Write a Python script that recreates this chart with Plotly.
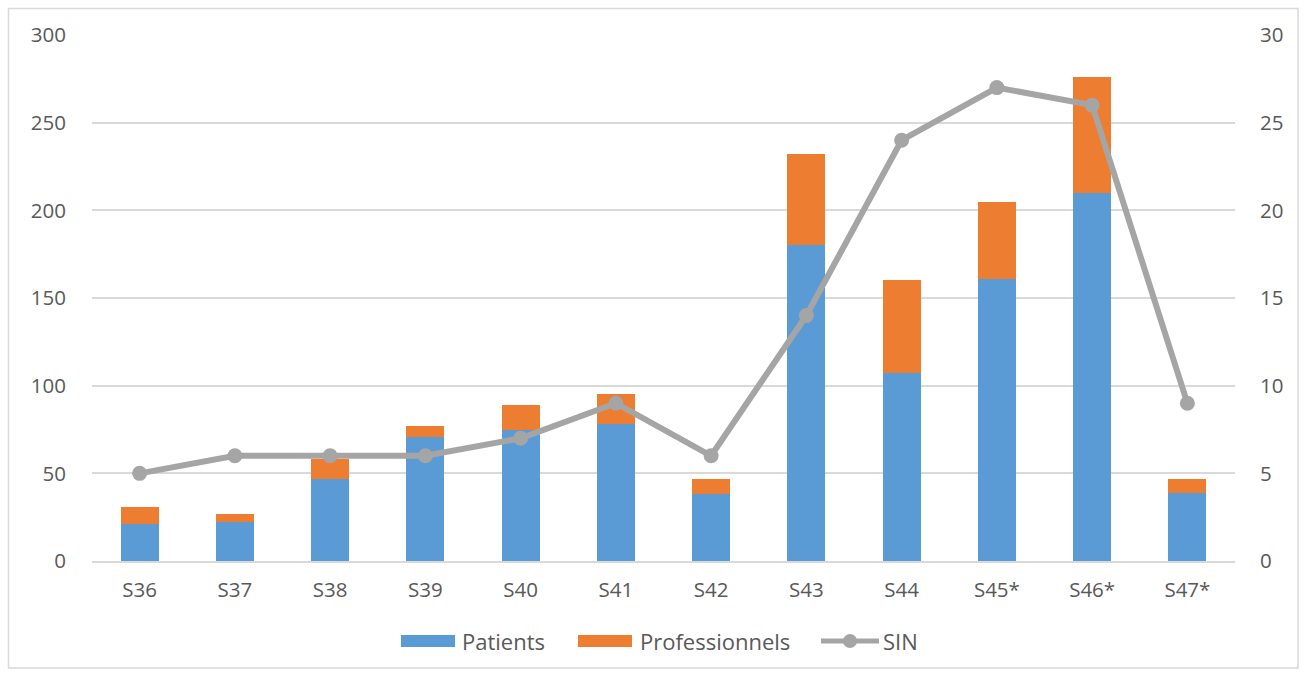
import plotly.graph_objects as go

weeks = ["S36", "S37", "S38", "S39", "S40", "S41", "S42", "S43", "S44", "S45*", "S46*", "S47*"]
patients = [21, 22, 47, 71, 75, 78, 38, 180, 107, 161, 210, 39]
professionnels = [10, 5, 11, 6, 14, 17, 9, 52, 53, 44, 66, 8]
sin = [5, 6, 6, 6, 7, 9, 6, 14, 24, 27, 26, 9]

left_ticks = [0, 50, 100, 150, 200, 250, 300]
right_ticks = [0, 5, 10, 15, 20, 25, 30]

BLUE = "#5B9BD5"
ORANGE = "#ED7D31"
GRAY = "#A5A5A5"
TXT = "#595959"
GRID = "#D9D9D9"
FONT = "Open Sans"

W, H = 1303, 673
L, R, T, B = 92, 1235, 35, 561


def px(x):
    return (x - L) / (R - L)


def py(y):
    return (B - y) / (B - T)


fig = go.Figure()
fig.add_trace(go.Bar(x=weeks, y=patients, name="Patients", marker=dict(color=BLUE, line=dict(width=0))))
fig.add_trace(go.Bar(x=weeks, y=professionnels, name="Professionnels", marker=dict(color=ORANGE, line=dict(width=0))))
fig.add_trace(go.Scatter(x=weeks, y=sin, name="SIN", yaxis="y2", mode="lines+markers",
                         line=dict(color=GRAY, width=6), marker=dict(color=GRAY, size=15)))

shapes = []
annotations = []
# outer border
shapes.append(dict(type="rect", xref="paper", yref="paper", x0=px(8.5), x1=px(1298), y0=py(8.5), y1=py(668),
                   line=dict(color=GRID, width=1.5), fillcolor="rgba(0,0,0,0)", layer="below"))
# custom legend
ly = 641
shapes.append(dict(type="rect", xref="paper", yref="paper", x0=px(401), x1=px(455), y0=py(647), y1=py(635),
                   line=dict(width=0), fillcolor=BLUE))
shapes.append(dict(type="rect", xref="paper", yref="paper", x0=px(578), x1=px(632), y0=py(647), y1=py(635),
                   line=dict(width=0), fillcolor=ORANGE))
shapes.append(dict(type="line", xref="paper", yref="paper", x0=px(821), x1=px(879), y0=py(ly), y1=py(ly),
                   line=dict(color=GRAY, width=5)))
shapes.append(dict(type="circle", xref="paper", yref="paper", x0=px(843), x1=px(857), y0=py(ly + 7), y1=py(ly - 7),
                   line=dict(width=0), fillcolor=GRAY))
for xpos, label in [(460, "Patients"), (638, "Professionnels"), (881, "SIN")]:
    annotations.append(dict(xref="paper", yref="paper", x=px(xpos), y=py(ly), text=label, showarrow=False,
                            xanchor="left", yanchor="middle", font=dict(family=FONT, size=22, color=TXT)))

fig.update_layout(
    width=W, height=H,
    margin=dict(l=L, r=W - R, t=T, b=H - B),
    paper_bgcolor="white", plot_bgcolor="white",
    barmode="stack", bargap=0.6,
    showlegend=False,
    font=dict(family=FONT, size=20.5, color=TXT),
    xaxis=dict(range=[-0.5, len(weeks) - 0.5], showgrid=False, showline=True, linecolor=GRID, linewidth=1.5,
               ticks="", automargin=False, tickfont=dict(size=20.5, color=TXT), ticklabelstandoff=10),
    yaxis=dict(range=[0, 300], tickvals=left_ticks, showgrid=True, gridcolor=GRID, gridwidth=1.5,
               zeroline=False, showline=False, ticks="", tickfont=dict(size=20.5, color=TXT),
               ticklabelstandoff=25, automargin=False),
    yaxis2=dict(range=[0, 30], tickvals=right_ticks, overlaying="y", side="right", showgrid=False,
                zeroline=False, showline=False, ticks="", tickfont=dict(size=20.5, color=TXT),
                ticklabelstandoff=24, automargin=False),
    shapes=shapes, annotations=annotations,
)

fig.write_html("out.html")
